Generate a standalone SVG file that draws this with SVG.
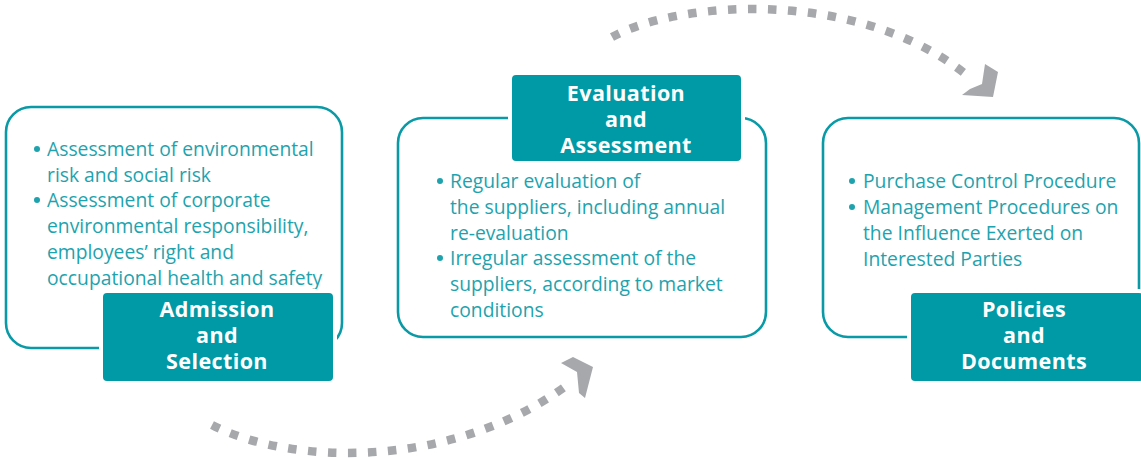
<svg xmlns="http://www.w3.org/2000/svg" width="1141" height="458" viewBox="0 0 1141 458">
<style>
.outline{fill:#fff;stroke:#0a9aa6;stroke-width:2.6}
.label{fill:#009aa6;stroke:#fff;stroke-width:4}
.lt{font-family:"Open Sans","Noto Sans",sans-serif;font-weight:700;font-size:21.5px;letter-spacing:0.4px;fill:#fff;text-anchor:middle}
.bt{font-family:"Open Sans","Noto Sans",sans-serif;font-size:19.3px;fill:#1ea3ae}
.dot{fill:#1ea3ae}
.arc{fill:none;stroke:#a7a8ab;stroke-width:8.5;stroke-dasharray:8.5 11.5}
.head{fill:#a7a8ab}
</style>
<g id="connectors">
<path class="arc" d="M612,37 C680,0 860,-12 968,76"/>
<polygon class="head" points="962,95 993,97 998,72 985,64 982,84 970,89"/>
<path class="arc" d="M212,425 C290,465 450,470 566,386"/>
<polygon class="head" points="561,363 573,357 593,367 585,398 579,393 577,372"/>
</g>
<g id="admission">
<rect class="outline" x="6" y="107" width="336" height="241" rx="25"/>
<circle class="dot" cx="37" cy="149" r="3"/>
<circle class="dot" cx="37" cy="200" r="3"/>
<text class="bt"><tspan x="47" y="156">Assessment of environmental</tspan><tspan x="47" y="182">risk and social risk</tspan><tspan x="47" y="207">Assessment of corporate</tspan><tspan x="47" y="233">environmental responsibility,</tspan><tspan x="47" y="259">employees’ right and</tspan><tspan x="47" y="285">occupational health and safety</tspan></text>
<rect class="label" x="101" y="291" width="234" height="92" rx="6"/>
<text class="lt"><tspan x="217" y="317">Admission</tspan><tspan x="217" y="343">and</tspan><tspan x="217" y="369">Selection</tspan></text>
</g>
<g id="evaluation">
<rect class="outline" x="398" y="118" width="368" height="219" rx="25"/>
<rect class="label" x="510" y="73" width="233" height="90" rx="6"/>
<text class="lt"><tspan x="626" y="101">Evaluation</tspan><tspan x="626" y="127">and</tspan><tspan x="626" y="153">Assessment</tspan></text>
<circle class="dot" cx="440" cy="181" r="3"/>
<circle class="dot" cx="440" cy="258" r="3"/>
<text class="bt"><tspan x="450" y="188">Regular evaluation of</tspan><tspan x="450" y="214">the suppliers, including annual</tspan><tspan x="450" y="240">re-evaluation</tspan><tspan x="450" y="265">Irregular assessment of the</tspan><tspan x="450" y="291">suppliers, according to market</tspan><tspan x="450" y="317">conditions</tspan></text>
</g>
<g id="policies">
<rect class="outline" x="823" y="118" width="316" height="219" rx="25"/>
<circle class="dot" cx="852" cy="181" r="3"/>
<circle class="dot" cx="852" cy="207" r="3"/>
<text class="bt"><tspan x="863" y="188">Purchase Control Procedure</tspan><tspan x="863" y="214">Management Procedures on</tspan><tspan x="863" y="240">the Influence Exerted on</tspan><tspan x="863" y="266">Interested Parties</tspan></text>
<rect class="label" x="909" y="291" width="236" height="92" rx="6"/>
<text class="lt"><tspan x="1024" y="317">Policies</tspan><tspan x="1024" y="343">and</tspan><tspan x="1024" y="369">Documents</tspan></text>
</g>
</svg>
